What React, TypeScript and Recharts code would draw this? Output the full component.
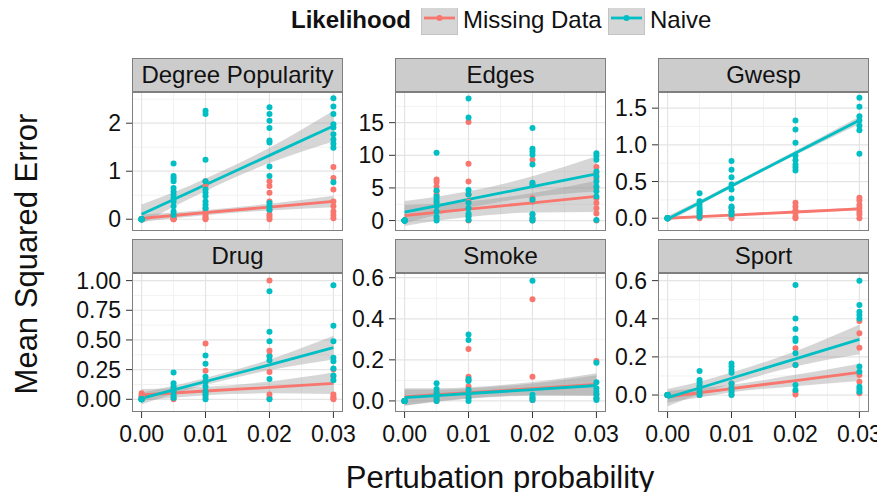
import React from "react";
import { ComposedChart, Scatter, Area, Line, XAxis, YAxis, CartesianGrid } from "recharts";

const RED = "#F8766D";
const TEAL = "#00BFC4";
const FONT = "'Liberation Sans', Arial, Helvetica, sans-serif";

// x levels shared by every panel
const X_LEVELS = [0, 0.005, 0.01, 0.02, 0.03];
const X_TICKS = [0, 0.01, 0.02, 0.03];
const X_TICK_LABELS = ["0.00", "0.01", "0.02", "0.03"];
const X_MINOR = [0.005, 0.015, 0.025];
const X_DOMAIN = [-0.0015, 0.0315];

// ---- Degree Popularity
const degreeDomain = [-0.245, 2.65];
const degreeTicks = [0, 1, 2];
const degreeTickLabels = ["0", "1", "2"];
const degreeMissingPts = [
  [0, 0, 0, 0, 0, 0, 0, 0],
  [0.1, 0.07, 0.05, 0.03, 0.02, 0.01, 0, 0],
  [0.79, 0.69, 0.23, 0.16, 0.1, 0.05, 0.02, 0],
  [0.79, 0.69, 0.55, 0.37, 0.27, 0.18, 0.1, 0.05, 0],
  [1.09, 0.86, 0.62, 0.37, 0.27, 0.16, 0.09, 0.02],
];
const degreeNaivePts = [
  [0, 0, 0, 0, 0, 0, 0, 0],
  [1.16, 0.9, 0.85, 0.79, 0.65, 0.58, 0.51, 0.44, 0.37, 0.27, 0.16, 0.09],
  [2.26, 2.19, 1.24, 0.79, 0.62, 0.55, 0.48, 0.37, 0.3, 0.23],
  [2.33, 2.19, 2.05, 1.9, 1.64, 1.6, 1.1, 0.9, 0.34, 0.27, 0.2],
  [2.52, 2.35, 2.19, 1.98, 1.91, 1.77, 1.66, 1.57, 1.49, 0.77],
];
const degreeMissingFit = [0.02, 0.078, 0.137, 0.253, 0.37];
const degreeMissingLo = [-0.06, 0.018, 0.082, 0.183, 0.25];
const degreeMissingHi = [0.1, 0.138, 0.192, 0.323, 0.49];
const degreeNaiveFit = [0.105, 0.41, 0.718, 1.33, 1.94];
const degreeNaiveLo = [-0.095, 0.26, 0.59, 1.17, 1.62];
const degreeNaiveHi = [0.305, 0.56, 0.85, 1.49, 2.26];

// ---- Edges
const edgesDomain = [-1.6, 19.7];
const edgesTicks = [0, 5, 10, 15];
const edgesTickLabels = ["0", "5", "10", "15"];
const edgesMissingPts = [
  [0, 0, 0, 0, 0, 0, 0, 0],
  [6.3, 5.9, 5.2, 4.5, 4.0, 2.7, 1.4, 0.4],
  [15.1, 8.7, 6.0, 4.0, 2.9, 1.9, 0.8, 0],
  [9.3, 5.6, 3.4, 2.9, 0.9, 0.3, 0],
  [8.2, 7.3, 6.4, 5.0, 3.4, 2.7, 1.9, 1.1, 0],
];
const edgesNaivePts = [
  [0, 0, 0, 0, 0, 0, 0, 0],
  [10.4, 4.6, 3.7, 3.3, 2.9, 2.2, 1.4, 0.6, 0],
  [18.7, 15.8, 4.7, 4.0, 2.7, 1.9, 1.1, 0.6, 0.1],
  [14.2, 11.0, 10.6, 10.1, 8.6, 5.8, 5.4, 3.2, 1.0, 0.4, 0],
  [10.3, 9.9, 9.3, 7.5, 6.8, 6.0, 5.2, 4.5, 3.7, 0.1],
];
const edgesMissingFit = [0.77, 1.26, 1.75, 2.72, 3.7];
const edgesMissingLo = [-0.83, -0.04, 0.55, 1.22, 1.3];
const edgesMissingHi = [2.37, 2.56, 2.95, 4.22, 6.1];
const edgesNaiveFit = [1.28, 2.26, 3.23, 5.19, 7.14];
const edgesNaiveLo = [-0.42, 0.86, 1.98, 3.59, 4.44];
const edgesNaiveHi = [2.98, 3.66, 4.48, 6.79, 9.84];

// ---- Gwesp
const gwespDomain = [-0.174, 1.72];
const gwespTicks = [0, 0.5, 1, 1.5];
const gwespTickLabels = ["0.0", "0.5", "1.0", "1.5"];
const gwespMissingPts = [
  [0, 0, 0, 0, 0, 0],
  [0.09, 0.05, 0.03, 0.01, 0],
  [0.14, 0.09, 0.05, 0.02, 0],
  [0.21, 0.16, 0.11, 0.07, 0.02, 0],
  [0.28, 0.24, 0.18, 0.14, 0.09, 0.05, 0],
];
const gwespNaivePts = [
  [0, 0, 0, 0, 0, 0, 0],
  [0.34, 0.23, 0.18, 0.14, 0.11, 0.07, 0.02],
  [0.78, 0.66, 0.56, 0.46, 0.39, 0.27, 0.16, 0.14, 0.09, 0.05],
  [1.33, 1.21, 1.03, 0.85, 0.79, 0.73, 0.69, 0.65],
  [1.64, 1.52, 1.39, 1.33, 1.26, 1.2, 0.88],
];
const gwespMissingFit = [0, 0.021, 0.043, 0.085, 0.128];
const gwespMissingLo = [-0.015, 0.009, 0.033, 0.073, 0.108];
const gwespMissingHi = [0.015, 0.033, 0.053, 0.097, 0.148];
const gwespNaiveFit = [-0.01, 0.21, 0.44, 0.89, 1.335];
const gwespNaiveLo = [-0.05, 0.18, 0.415, 0.86, 1.285];
const gwespNaiveHi = [0.03, 0.24, 0.465, 0.92, 1.385];

// ---- Drug
const drugDomain = [-0.107, 1.064];
const drugTicks = [0, 0.25, 0.5, 0.75, 1];
const drugTickLabels = ["0.00", "0.25", "0.50", "0.75", "1.00"];
const drugMissingPts = [
  [0.05, 0.03, 0.02, 0.01, 0],
  [0.09, 0.05, 0.02, 0],
  [0.47, 0.24, 0.15, 0.08, 0.05, 0.02],
  [1.0, 0.41, 0.37, 0.23, 0.04, 0.01],
  [0.25, 0.19, 0.04, 0.02, 0.01, 0],
];
const drugNaivePts = [
  [0, 0, 0, 0, 0, 0],
  [0.225, 0.135, 0.107, 0.087, 0.065, 0.037, 0.01],
  [0.37, 0.3, 0.19, 0.15, 0.107, 0.065, 0.037, 0],
  [0.91, 0.57, 0.49, 0.36, 0.33, 0.17, 0],
  [0.96, 0.62, 0.49, 0.35, 0.32, 0.26, 0.2, 0.16],
];
const drugMissingFit = [0.037, 0.053, 0.07, 0.1, 0.135];
const drugMissingLo = [-0.013, 0.013, 0.035, 0.05, 0.045];
const drugMissingHi = [0.087, 0.093, 0.105, 0.15, 0.225];
const drugNaiveFit = [0.008, 0.08, 0.15, 0.29, 0.435];
const drugNaiveLo = [-0.042, 0.045, 0.12, 0.245, 0.335];
const drugNaiveHi = [0.058, 0.115, 0.18, 0.335, 0.535];

// ---- Smoke
const smokeDomain = [-0.054, 0.623];
const smokeTicks = [0, 0.2, 0.4, 0.6];
const smokeTickLabels = ["0.0", "0.2", "0.4", "0.6"];
const smokeMissingPts = [
  [0, 0, 0, 0, 0],
  [0.045, 0.01, 0],
  [0.253, 0.118, 0.102, 0.07, 0.045, 0.02],
  [0.495, 0.118, 0.013, 0.005],
  [0.195, 0.032, 0.013],
];
const smokeNaivePts = [
  [0, 0, 0, 0, 0, 0],
  [0.086, 0.058, 0.037, 0.013, 0],
  [0.324, 0.297, 0.107, 0.097, 0.054, 0.032, 0.013, 0],
  [0.585, 0.03, 0.018, 0.005],
  [0.186, 0.091, 0.062, 0.045, 0.03, 0.013, 0.005],
];
const smokeMissingFit = [0.02, 0.03, 0.04, 0.06, 0.08];
const smokeMissingLo = [-0.022, -0.002, 0.013, 0.028, 0.025];
const smokeMissingHi = [0.062, 0.062, 0.067, 0.092, 0.135];
const smokeNaiveFit = [0.016, 0.026, 0.036, 0.055, 0.075];
const smokeNaiveLo = [-0.024, -0.004, 0.011, 0.025, 0.025];
const smokeNaiveHi = [0.056, 0.056, 0.061, 0.085, 0.125];

// ---- Sport
const sportDomain = [-0.089, 0.64];
const sportTicks = [0, 0.2, 0.4, 0.6];
const sportTickLabels = ["0.0", "0.2", "0.4", "0.6"];
const sportMissingPts = [
  [0, 0, 0, 0, 0],
  [0.044, 0.017, 0],
  [0.061, 0.044, 0.026, 0.003],
  [0.245, 0.157, 0.017, 0.003],
  [0.388, 0.324, 0.248, 0.105, 0.07, 0.009],
];
const sportNaivePts = [
  [0, 0, 0, 0, 0, 0],
  [0.126, 0.079, 0.065, 0.049, 0.035, 0.017, 0],
  [0.166, 0.149, 0.131, 0.117, 0.061, 0.035, 0.017, 0],
  [0.577, 0.402, 0.346, 0.297, 0.283, 0.219, 0.157, 0.052, 0.026],
  [0.6, 0.472, 0.437, 0.42, 0.402, 0.149, 0.122, 0.044, 0.031, 0.017],
];
const sportMissingFit = [-0.009, 0.012, 0.034, 0.076, 0.119];
const sportMissingLo = [-0.039, -0.013, 0.014, 0.046, 0.074];
const sportMissingHi = [0.021, 0.037, 0.054, 0.106, 0.164];
const sportNaiveFit = [-0.014, 0.037, 0.088, 0.19, 0.292];
const sportNaiveLo = [-0.059, 0.005, 0.058, 0.15, 0.214];
const sportNaiveHi = [0.031, 0.069, 0.118, 0.23, 0.37];

// layout
const PLOT_LEFT = [132, 395, 658];
const PLOT_TOP = [92, 273];
const PW = 211;
const PH = 139;
const YW = 60;
const XH = 44;
const RM = 30; // room on the right for the last x tick label
const VM = 14; // room above / below for the end y tick labels
const STRIP_H = 34;

const toPoints = (levels: number[][]) =>
  levels.flatMap((ys, i) => ys.map((y) => ({ x: X_LEVELS[i], y })));

const toFit = (fit: number[], lo: number[], hi: number[]) =>
  X_LEVELS.map((x, i) => ({ x, fit: fit[i], band: [lo[i], hi[i]] }));

const panels = [
  { title: "Degree Popularity", domain: degreeDomain, ticks: degreeTicks, labels: degreeTickLabels,
    mPts: degreeMissingPts, nPts: degreeNaivePts,
    mFit: toFit(degreeMissingFit, degreeMissingLo, degreeMissingHi),
    nFit: toFit(degreeNaiveFit, degreeNaiveLo, degreeNaiveHi) },
  { title: "Edges", domain: edgesDomain, ticks: edgesTicks, labels: edgesTickLabels,
    mPts: edgesMissingPts, nPts: edgesNaivePts,
    mFit: toFit(edgesMissingFit, edgesMissingLo, edgesMissingHi),
    nFit: toFit(edgesNaiveFit, edgesNaiveLo, edgesNaiveHi) },
  { title: "Gwesp", domain: gwespDomain, ticks: gwespTicks, labels: gwespTickLabels,
    mPts: gwespMissingPts, nPts: gwespNaivePts,
    mFit: toFit(gwespMissingFit, gwespMissingLo, gwespMissingHi),
    nFit: toFit(gwespNaiveFit, gwespNaiveLo, gwespNaiveHi) },
  { title: "Drug", domain: drugDomain, ticks: drugTicks, labels: drugTickLabels,
    mPts: drugMissingPts, nPts: drugNaivePts,
    mFit: toFit(drugMissingFit, drugMissingLo, drugMissingHi),
    nFit: toFit(drugNaiveFit, drugNaiveLo, drugNaiveHi) },
  { title: "Smoke", domain: smokeDomain, ticks: smokeTicks, labels: smokeTickLabels,
    mPts: smokeMissingPts, nPts: smokeNaivePts,
    mFit: toFit(smokeMissingFit, smokeMissingLo, smokeMissingHi),
    nFit: toFit(smokeNaiveFit, smokeNaiveLo, smokeNaiveHi) },
  { title: "Sport", domain: sportDomain, ticks: sportTicks, labels: sportTickLabels,
    mPts: sportMissingPts, nPts: sportNaivePts,
    mFit: toFit(sportMissingFit, sportMissingLo, sportMissingHi),
    nFit: toFit(sportNaiveFit, sportNaiveLo, sportNaiveHi) },
];

const dot = (color: string) => (p: any) => <circle cx={p.cx} cy={p.cy} r={3} fill={color} />;

function minorOf(ticks: number[], domain: number[]) {
  const step = ticks[1] - ticks[0];
  const out = ticks.map((t) => t + step / 2);
  out.unshift(ticks[0] - step / 2);
  return out.filter((v) => v > domain[0] && v < domain[1]);
}

function Panel({ p, left, top, showX }: { p: any; left: number; top: number; showX: boolean }) {
  const tickStyle = { fontSize: 23, fill: "#111", fontFamily: FONT };
  return (
    <div style={{ position: "absolute", left: left - YW, top: top - VM }}>
      <div style={{
        position: "absolute", left: YW, top: VM - STRIP_H, width: PW, height: STRIP_H,
        boxSizing: "border-box", background: "#cccccc", border: "1px solid #7f7f7f",
        fontSize: 24, lineHeight: `${STRIP_H - 2}px`, textAlign: "center", color: "#111",
        whiteSpace: "nowrap",
      }}>
        {p.title}
      </div>
      <ComposedChart width={YW + PW + RM} height={VM + PH + (showX ? XH : VM)}
        margin={{ top: VM, right: RM, bottom: showX ? 0 : VM, left: 0 }}>
        <CartesianGrid stroke="#f2f2f2" strokeWidth={1}
          horizontalValues={minorOf(p.ticks, p.domain)} verticalValues={X_MINOR} />
        <CartesianGrid stroke="#e4e4e4" strokeWidth={1.2}
          horizontalValues={p.ticks} verticalValues={X_TICKS} />
        <XAxis type="number" dataKey="x" domain={X_DOMAIN} ticks={X_TICKS} allowDataOverflow
          interval={0} hide={!showX} height={XH} axisLine={false} tickSize={6} tickMargin={8}
          tickLine={{ stroke: "#333" }} tick={tickStyle}
          tickFormatter={(v: number) => X_TICK_LABELS[X_TICKS.indexOf(v)] ?? String(v)} />
        <YAxis type="number" domain={p.domain} ticks={p.ticks} allowDataOverflow width={YW}
          interval={0} axisLine={false} tickSize={6} tickMargin={5} tickLine={{ stroke: "#333" }}
          tick={tickStyle}
          tickFormatter={(v: number) => p.labels[p.ticks.indexOf(v)] ?? String(v)} />
        <Scatter data={toPoints(p.mPts)} dataKey="y" shape={dot(RED)} isAnimationActive={false} />
        <Scatter data={toPoints(p.nPts)} dataKey="y" shape={dot(TEAL)} isAnimationActive={false} />
        <Area data={p.mFit} dataKey="band" type="monotone" stroke="none" fill="#999999"
          fillOpacity={0.4} dot={false} activeDot={false} isAnimationActive={false} />
        <Line data={p.mFit} dataKey="fit" type="linear" stroke={RED} strokeWidth={2.8}
          dot={false} activeDot={false} isAnimationActive={false} />
        <Area data={p.nFit} dataKey="band" type="monotone" stroke="none" fill="#999999"
          fillOpacity={0.4} dot={false} activeDot={false} isAnimationActive={false} />
        <Line data={p.nFit} dataKey="fit" type="linear" stroke={TEAL} strokeWidth={2.8}
          dot={false} activeDot={false} isAnimationActive={false} />
      </ComposedChart>
      <div style={{
        position: "absolute", left: YW, top: VM, width: PW, height: PH,
        boxSizing: "border-box", border: "1px solid #7f7f7f", pointerEvents: "none",
      }} />
    </div>
  );
}

function LegendKey({ color, left }: { color: string; left: number }) {
  return (
    <svg width={37} height={34} style={{ position: "absolute", left, top: 1 }}>
      <rect x={0.5} y={0.5} width={36} height={33} fill="#d6d6d6" stroke="#c4c4c4" />
      <line x1={3} x2={34} y1={17} y2={17} stroke={color} strokeWidth={2.8} />
      <circle cx={18.5} cy={17} r={3} fill={color} />
    </svg>
  );
}

export default function App() {
  const text = { position: "absolute" as const, top: 6, fontSize: 24, lineHeight: "28px", color: "#111", whiteSpace: "nowrap" as const };
  return (
    <div style={{ position: "relative", width: 885, height: 500, margin: -8, background: "#fff", fontFamily: FONT, overflow: "hidden" }}>
      <div style={{ ...text, left: 291, fontWeight: "bold" }}>Likelihood</div>
      <LegendKey color={RED} left={421} />
      <div style={{ ...text, left: 463 }}>Missing Data</div>
      <LegendKey color={TEAL} left={608} />
      <div style={{ ...text, left: 650 }}>Naive</div>

      {panels.map((p, i) => (
        <Panel key={p.title} p={p} left={PLOT_LEFT[i % 3]} top={PLOT_TOP[Math.floor(i / 3)]} showX={i >= 3} />
      ))}

      <div style={{
        position: "absolute", left: 27, top: 254, transform: "translate(-50%, -50%) rotate(-90deg)",
        fontSize: 31, color: "#111", whiteSpace: "nowrap",
      }}>
        Mean Squared Error
      </div>
      <div style={{
        position: "absolute", left: 500, top: 462, transform: "translateX(-50%)",
        fontSize: 31, lineHeight: "31px", color: "#111", whiteSpace: "nowrap",
      }}>
        Pertubation probability
      </div>
    </div>
  );
}
